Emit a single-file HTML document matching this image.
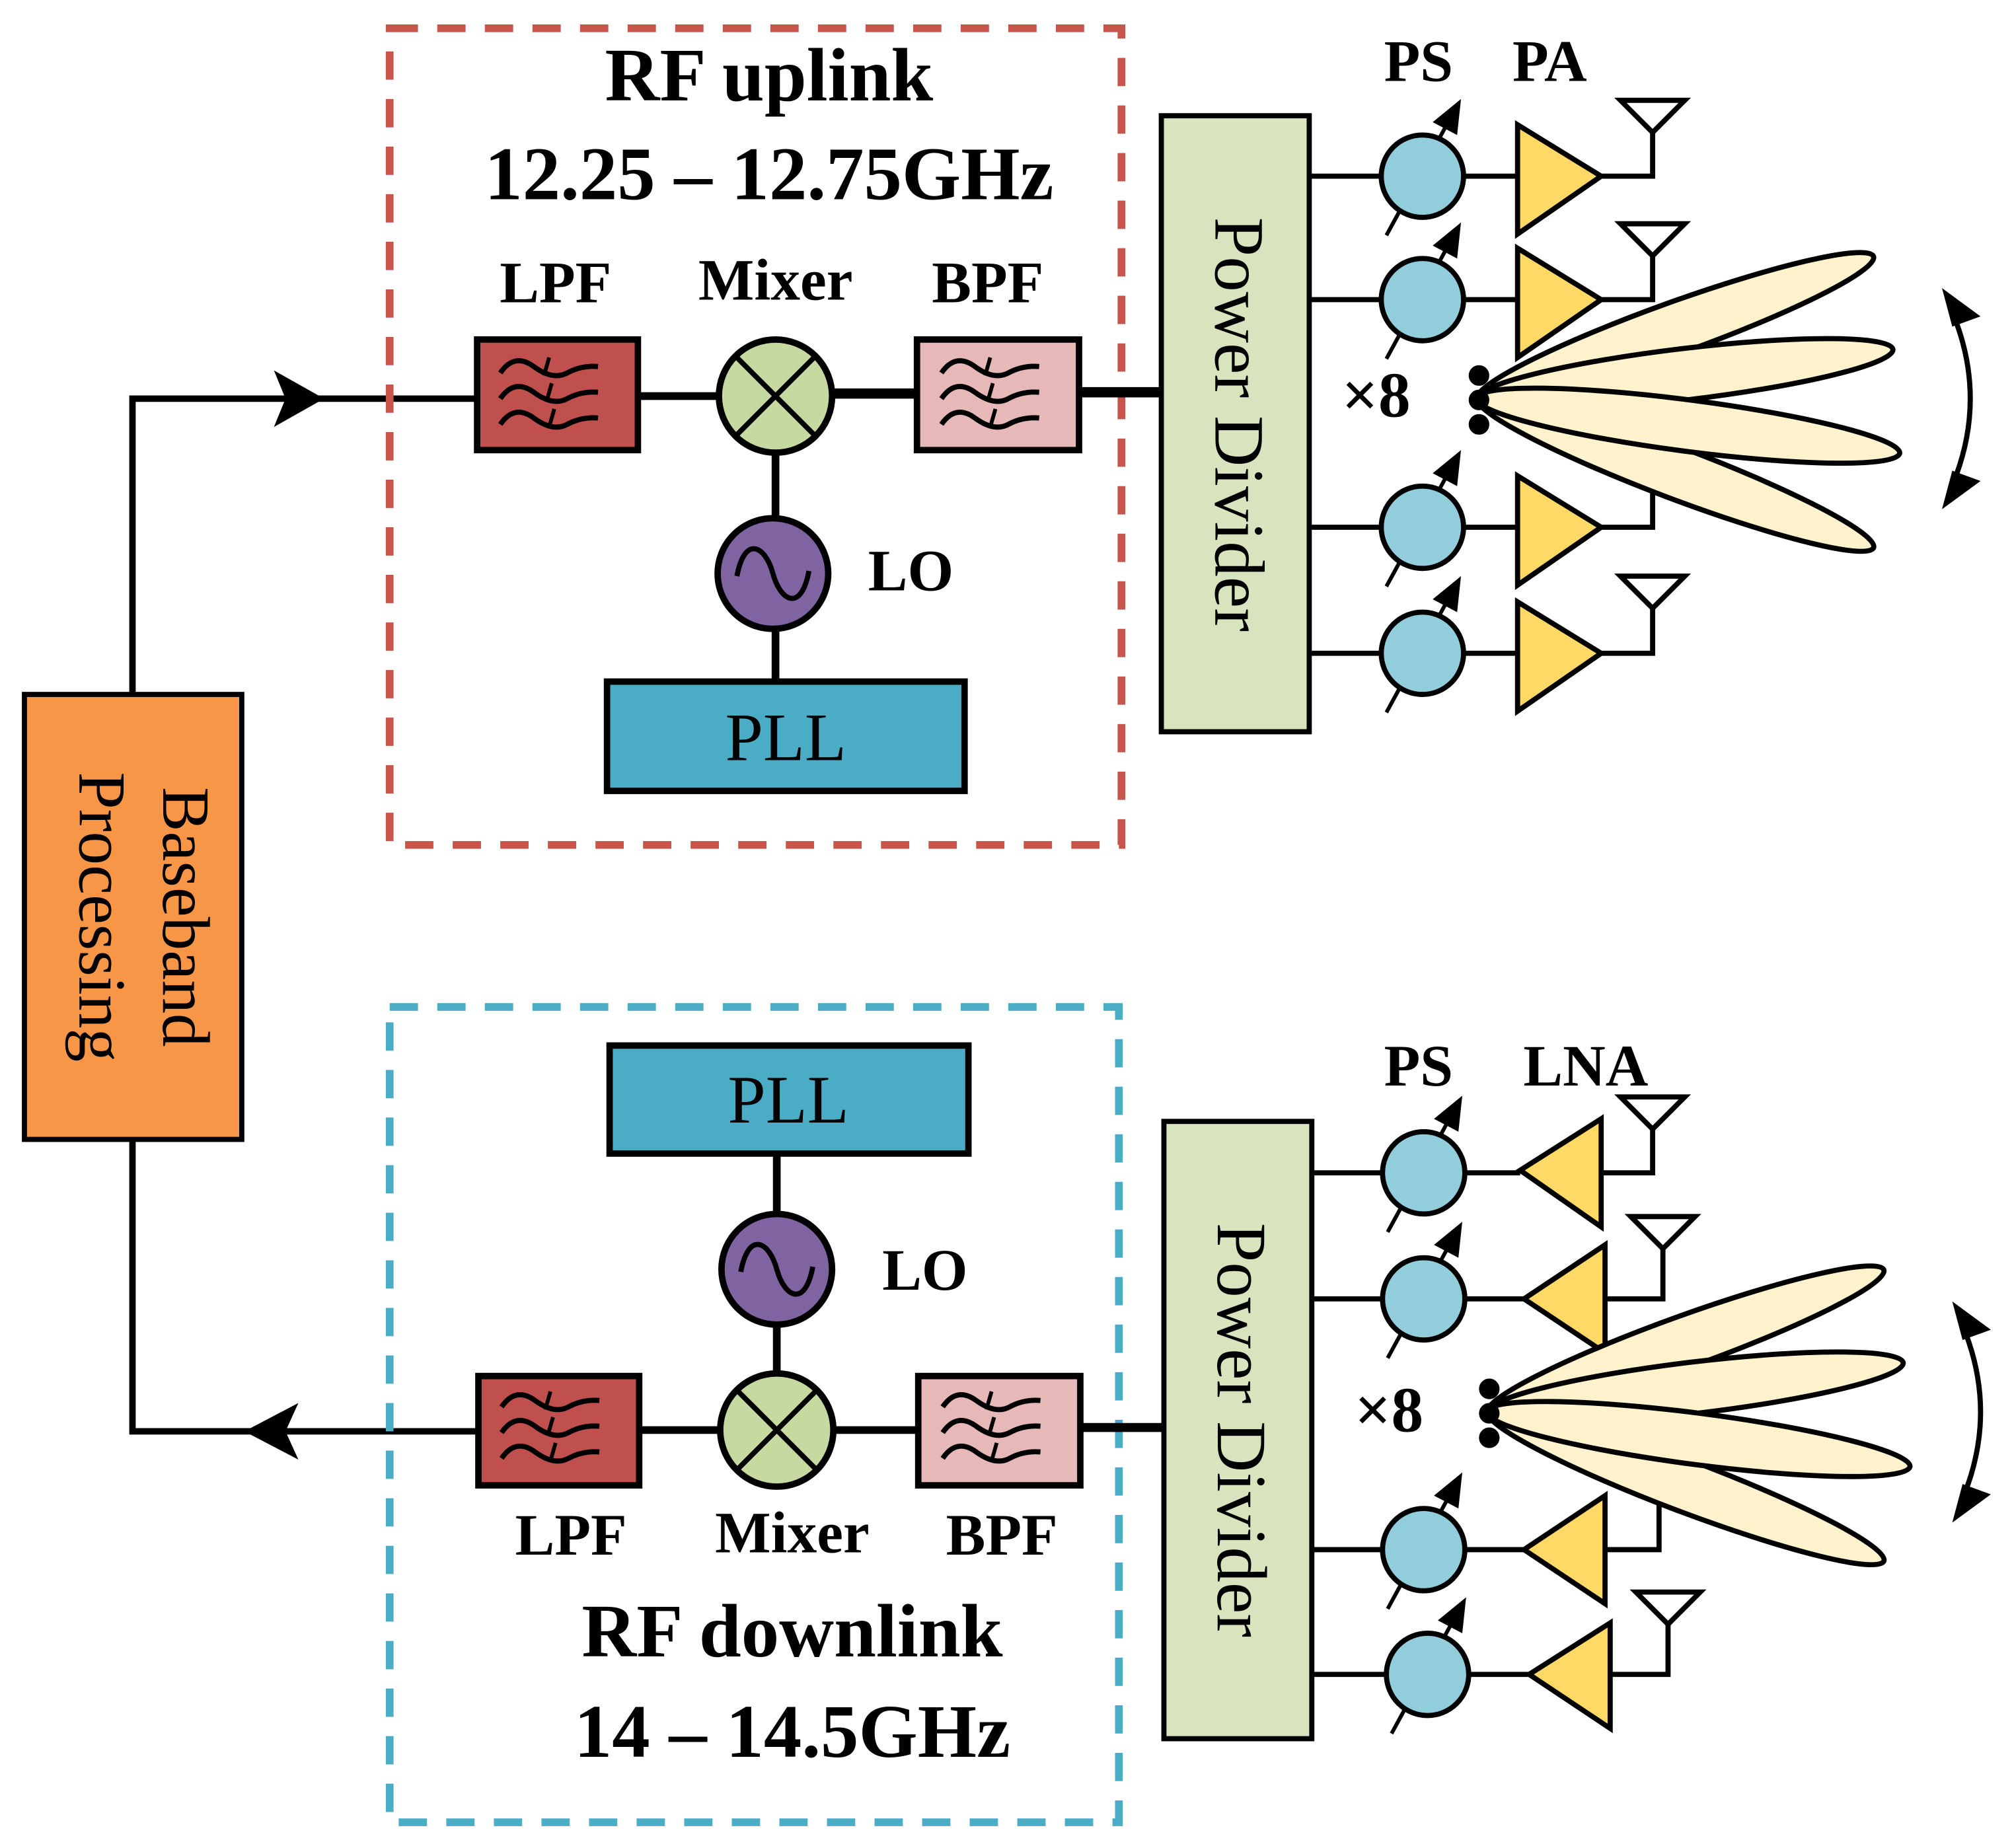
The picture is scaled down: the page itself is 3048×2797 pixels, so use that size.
<!DOCTYPE html>
<html><head><meta charset="utf-8"><style>html,body{margin:0;padding:0;background:#fff}svg{display:block}</style></head>
<body>
<svg width="3048" height="2797" viewBox="0 0 1566 1437" preserveAspectRatio="none" xmlns="http://www.w3.org/2000/svg" font-family="Liberation Serif, serif">
<defs>
<g id="filt" fill="none" stroke="#000" stroke-width="4"><path d="M-44,-18 q11,-16 26,-5 t26,5 t24,-5"/><path d="M-44,2 q11,-16 26,-5 t26,5 t24,-5"/><path d="M-44,22 q11,-16 26,-5 t26,5 t24,-5"/><path d="M-6,-30 l-4,14 M-4,-10 l-4,14 M-2,10 l-4,14" stroke-width="3"/></g>
<g id="ps"><line x1="-28" y1="46" x2="20" y2="-42" stroke="#000" stroke-width="3"/><path d="M30,-60 L8,-42 L27,-32 z" fill="#000"/><circle r="32" fill="#92cddc" stroke="#000" stroke-width="4"/></g>
<g id="mix"><circle r="44" fill="#c6d9a0" stroke="#000" stroke-width="5"/><line x1="-31" y1="-31" x2="31" y2="31" stroke="#000" stroke-width="4"/><line x1="31" y1="-31" x2="-31" y2="31" stroke="#000" stroke-width="4"/></g>
<g id="lo"><circle r="43" fill="#8064a2" stroke="#000" stroke-width="5"/><path d="M-28,2 C-22,-30 -6,-22 0,0 S 22,30 28,-2" fill="none" stroke="#000" stroke-width="4"/></g>
<g id="beams" stroke="#000" stroke-width="4" fill="#fff2cc">
<ellipse cx="1302.5" cy="255" rx="164" ry="20" transform="rotate(-19.8 1302.5 255)"/>
<ellipse cx="1302.5" cy="367.5" rx="165" ry="20" transform="rotate(20.7 1302.5 367.5)"/>
<ellipse cx="1310" cy="291" rx="163" ry="20" transform="rotate(-6.8 1310 291)"/>
<ellipse cx="1312.5" cy="331" rx="166" ry="20" transform="rotate(7.4 1312.5 331)"/>
<circle cx="1150" cy="292" r="6" fill="#000"/><circle cx="1150" cy="311" r="6" fill="#000"/><circle cx="1150" cy="330" r="6" fill="#000"/>
<path d="M1516,238 Q1548,310 1516,382" fill="none" stroke-width="4"/>
<path d="M1510,224 L1540,246 L1518,254 z M1510,396 L1540,374 L1518,366 z" fill="#000" stroke="none"/>
</g>
</defs>

<rect x="19" y="540" width="169" height="346" fill="#f79646" stroke="#000" stroke-width="4"/>
<text transform="translate(127,713) rotate(90)" font-size="52" text-anchor="middle">Baseband</text>
<text transform="translate(62,713) rotate(90)" font-size="52" text-anchor="middle">Processing</text>
<path d="M103,540 V310 H372" fill="none" stroke="#000" stroke-width="5"/>
<path d="M213,288 L252,310 L213,332 L222,310 z" fill="#000"/>
<path d="M103,886 V1113 H372" fill="none" stroke="#000" stroke-width="5"/>
<path d="M232,1091 L190,1113 L232,1135 L222,1113 z" fill="#000"/>

<rect x="303" y="22" width="569" height="635" fill="none" stroke="#c8554a" stroke-width="6" stroke-dasharray="22,15"/>
<text x="598" y="78" font-size="59" font-weight="bold" text-anchor="middle">RF uplink</text>
<text x="598" y="155" font-size="59" font-weight="bold" text-anchor="middle">12.25 – 12.75GHz</text>
<g font-size="46" font-weight="bold" text-anchor="middle"><text x="432" y="235">LPF</text><text x="603" y="233">Mixer</text><text x="768" y="235">BPF</text></g>
<line x1="496" y1="308" x2="560" y2="308" stroke="#000" stroke-width="6"/>
<line x1="646" y1="306" x2="713" y2="306" stroke="#000" stroke-width="8"/>
<line x1="839" y1="305" x2="903" y2="305" stroke="#000" stroke-width="8"/>
<line x1="603" y1="350" x2="603" y2="530" stroke="#000" stroke-width="6"/>
<rect x="371" y="264" width="125" height="86" fill="#c0504d" stroke="#000" stroke-width="5"/>
<use href="#filt" x="433" y="308"/>
<rect x="713" y="264" width="126" height="86" fill="#e6b9b8" stroke="#000" stroke-width="5"/>
<use href="#filt" x="776" y="308"/>
<use href="#mix" x="603" y="308"/>
<use href="#lo" x="601" y="446"/>
<text x="675" y="459" font-size="46" font-weight="bold">LO</text>
<rect x="472" y="530" width="278" height="85" fill="#4bacc6" stroke="#000" stroke-width="5"/>
<text x="611" y="591" font-size="53" text-anchor="middle">PLL</text>

<rect x="303" y="783" width="567" height="634" fill="none" stroke="#4bacc6" stroke-width="6" stroke-dasharray="22,15"/>
<line x1="497" y1="1112" x2="714" y2="1112" stroke="#000" stroke-width="6"/>
<line x1="840" y1="1110" x2="905" y2="1110" stroke="#000" stroke-width="7"/>
<line x1="604" y1="897" x2="604" y2="1070" stroke="#000" stroke-width="6"/>
<rect x="474" y="813" width="279" height="84" fill="#4bacc6" stroke="#000" stroke-width="5"/>
<text x="613" y="873" font-size="53" text-anchor="middle">PLL</text>
<use href="#lo" x="604" y="987"/>
<text x="686" y="1003" font-size="46" font-weight="bold">LO</text>
<rect x="372" y="1070" width="125" height="85" fill="#c0504d" stroke="#000" stroke-width="5"/>
<use href="#filt" x="434" y="1112"/>
<rect x="714" y="1070" width="126" height="85" fill="#e6b9b8" stroke="#000" stroke-width="5"/>
<use href="#filt" x="777" y="1112"/>
<use href="#mix" x="604" y="1112"/>
<g font-size="46" font-weight="bold" text-anchor="middle"><text x="444" y="1209">LPF</text><text x="616" y="1207">Mixer</text><text x="779" y="1209">BPF</text></g>
<text x="616" y="1288" font-size="59" font-weight="bold" text-anchor="middle">RF downlink</text>
<text x="616" y="1366" font-size="59" font-weight="bold" text-anchor="middle">14 – 14.5GHz</text>

<g stroke="#000" stroke-width="4" fill="none">
<path d="M1018,137 H1180 M1245,137 H1285 V102 M1018,233 H1180 M1245,233 H1285 V198 M1018,410 H1180 M1245,410 H1285 V375 M1018,508 H1180 M1245,508 H1285 V473"/>
<path d="M1260,78 H1310 L1285,103 z M1260,174 H1310 L1285,199 z M1260,448 H1310 L1285,473 z"/>
</g>
<g fill="#ffd966" stroke="#000" stroke-width="4">
<path d="M1180,97 L1245,137 L1180,182 z"/><path d="M1180,193 L1245,233 L1180,278 z"/><path d="M1180,370 L1245,410 L1180,455 z"/><path d="M1180,468 L1245,508 L1180,553 z"/>
</g>
<use href="#ps" x="1106" y="137"/><use href="#ps" x="1106" y="233"/><use href="#ps" x="1106" y="410"/><use href="#ps" x="1106" y="508"/>
<rect x="903" y="90" width="115" height="479" fill="#d7e4bd" stroke="#000" stroke-width="4"/>
<text transform="translate(945,330) rotate(90)" font-size="55" text-anchor="middle">Power Divider</text>
<g font-size="46" font-weight="bold" text-anchor="middle"><text x="1103" y="63">PS</text><text x="1205" y="63">PA</text></g>
<text x="1070" y="324" font-size="50" font-weight="bold" text-anchor="middle">×8</text>
<use href="#beams"/>

<g stroke="#000" stroke-width="4" fill="none">
<path d="M1020,912 H1182 M1245,912 H1285 V877 M1020,1010 H1185 M1248,1010 H1293 V970 M1020,1205 H1185 M1248,1205 H1290 V1170 M1020,1302 H1189 M1252,1302 H1297 V1262"/>
<path d="M1260,853 H1310 L1285,878 z M1268,946 H1318 L1293,971 z M1272,1238 H1322 L1297,1263 z"/>
</g>
<g fill="#ffd966" stroke="#000" stroke-width="4">
<path d="M1245,870 L1182,910 L1245,954 z"/><path d="M1248,968 L1185,1010 L1248,1052 z"/><path d="M1248,1163 L1185,1205 L1248,1247 z"/><path d="M1252,1262 L1189,1302 L1252,1344 z"/>
</g>
<use href="#ps" x="1107" y="912"/><use href="#ps" x="1107" y="1010"/><use href="#ps" x="1107" y="1205"/><use href="#ps" x="1110" y="1302"/>
<rect x="905" y="872" width="115" height="480" fill="#d7e4bd" stroke="#000" stroke-width="4"/>
<text transform="translate(947,1112) rotate(90)" font-size="55" text-anchor="middle">Power Divider</text>
<g font-size="46" font-weight="bold" text-anchor="middle"><text x="1103" y="844">PS</text><text x="1233" y="844">LNA</text></g>
<text x="1080" y="1113" font-size="50" font-weight="bold" text-anchor="middle">×8</text>
<use href="#beams" transform="translate(8,788)"/>
</svg>
</body></html>
